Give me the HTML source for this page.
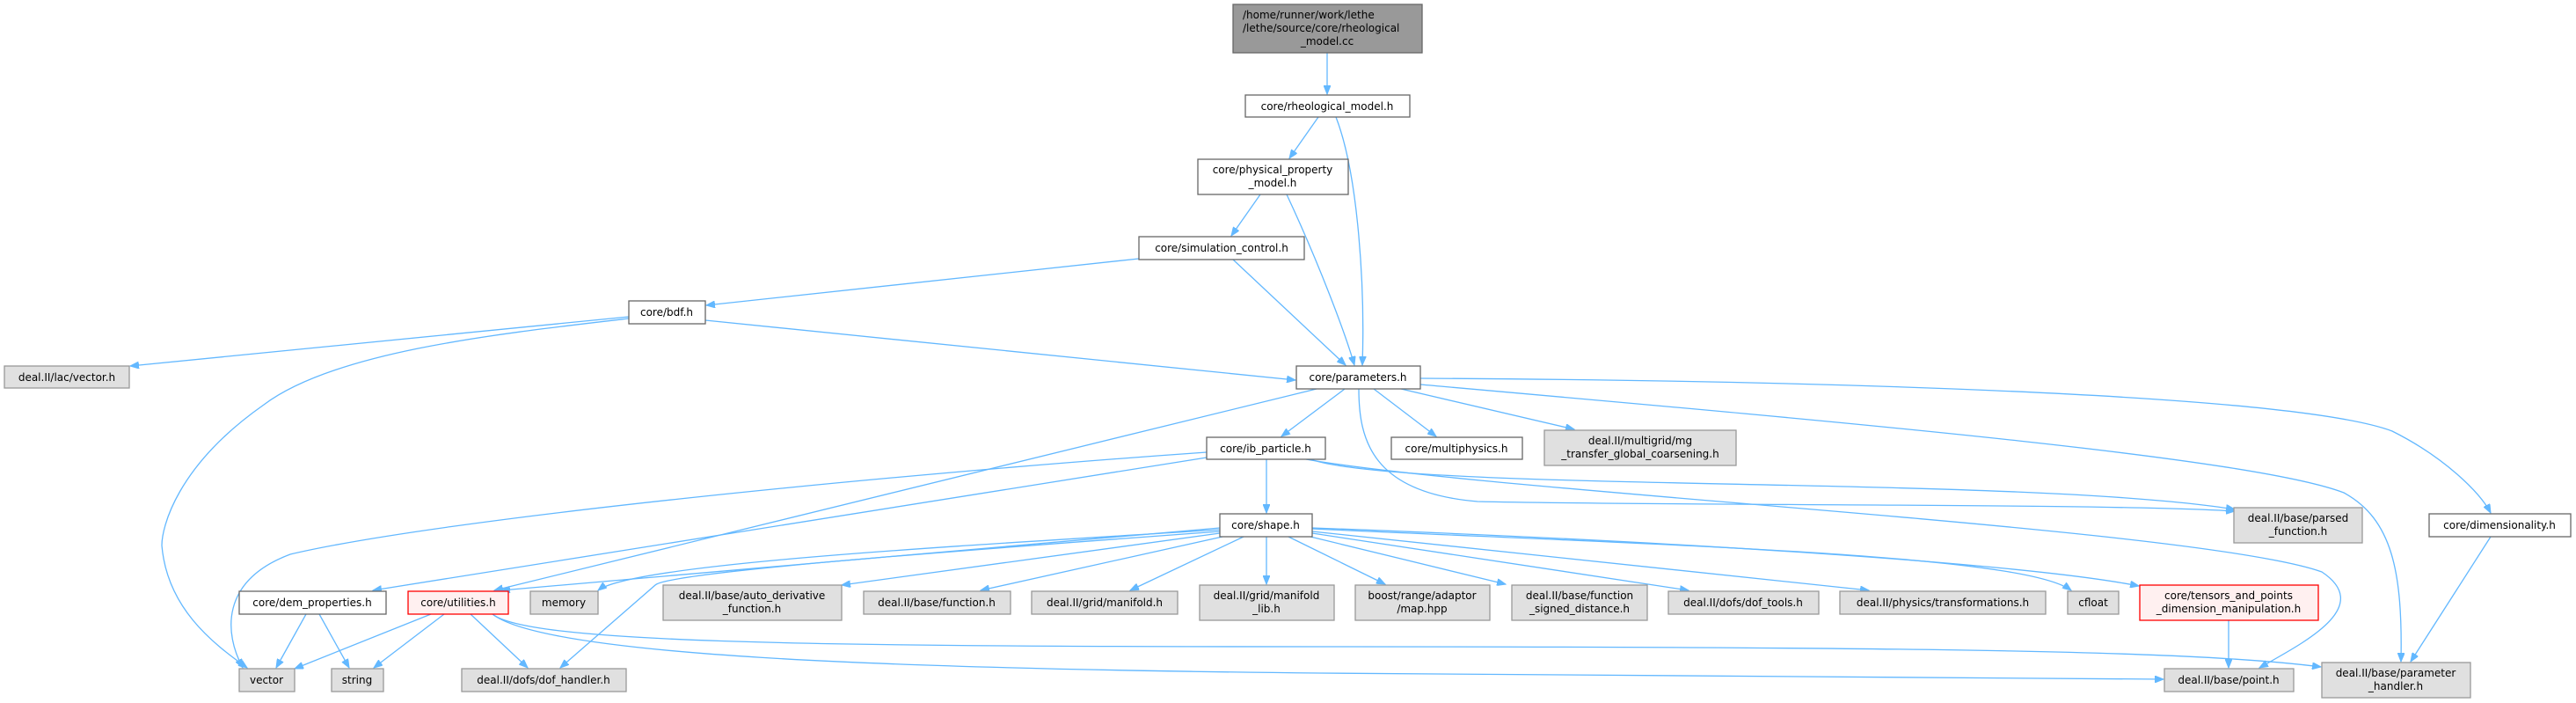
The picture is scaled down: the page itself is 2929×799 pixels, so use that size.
<!DOCTYPE html>
<html><head><meta charset="utf-8"><style>
html,body{margin:0;padding:0;background:#fff;}
svg{display:block;}
text{font-family:"DejaVu Sans","Liberation Sans",sans-serif;font-size:12px;fill:#000;}
.n{fill:#fff;stroke:#666;stroke-width:1.3;}
.g{fill:#e0e0e0;stroke:#999;stroke-width:1.3;}
.r{fill:#fff0f0;stroke:#f00;stroke-width:1.3;}
.t{fill:#999;stroke:#666;stroke-width:1.3;}
path.e{fill:none;stroke:#63b8ff;stroke-width:1.3;}
</style></head><body>
<svg width="2929" height="799" viewBox="0 0 2929 799" xmlns="http://www.w3.org/2000/svg">
<defs><marker id="a" markerWidth="11" markerHeight="8" refX="10" refY="4" orient="auto" markerUnits="userSpaceOnUse"><path d="M0,0 L10,4 L0,8 z" fill="#63b8ff" stroke="#63b8ff"/></marker></defs>
<g marker-end="url(#a)">
<path class="e" d="M1509,60 L1509,107"/>
<path class="e" d="M1499,133 L1466,180"/>
<path class="e" d="M1519,133 C1545,200 1552,330 1549,415"/>
<path class="e" d="M1433,221 L1400,268"/>
<path class="e" d="M1463,221 C1500,300 1530,380 1540,415"/>
<path class="e" d="M1295,294 L803,347"/>
<path class="e" d="M1402,295 L1530,415"/>
<path class="e" d="M715,360 L148,416"/>
<path class="e" d="M715,362 C560,380 380,400 300,460 C200,530 184,600 184,620 C190,690 240,730 281,759"/>
<path class="e" d="M802,364 L1473,432"/>
<path class="e" d="M1529,442 L1457,496"/>
<path class="e" d="M1562,442 L1633,496"/>
<path class="e" d="M1593,442 L1790,488"/>
<path class="e" d="M1497,442 L562,671"/>
<path class="e" d="M1545,442 C1545,500 1560,560 1680,570 C1900,575 2400,572 2541,581"/>
<path class="e" d="M1615,437 C2100,480 2560,520 2665,560 C2720,590 2732,650 2730,752"/>
<path class="e" d="M1615,430 C2000,432 2600,445 2720,490 C2780,520 2820,560 2832,583"/>
<path class="e" d="M2832,610 L2741,752"/>
<path class="e" d="M1440,522 L1440,583"/>
<path class="e" d="M1372,520 L424,671"/>
<path class="e" d="M1372,514 C1000,540 500,590 330,630 C250,660 255,720 276,759"/>
<path class="e" d="M1490,522 C1600,560 2300,540 2541,579"/>
<path class="e" d="M1485,522 C1700,560 2500,600 2640,650 C2700,690 2620,730 2569,759"/>
<path class="e" d="M1387,600 L570,671"/>
<path class="e" d="M1387,602 C1100,620 720,640 680,671"/>
<path class="e" d="M1387,604 C1100,625 760,650 745,665 L637,759"/>
<path class="e" d="M1387,606 L957,665"/>
<path class="e" d="M1390,610 L1115,671"/>
<path class="e" d="M1414,610 L1285,671"/>
<path class="e" d="M1440,610 L1440,664"/>
<path class="e" d="M1465,610 L1575,664"/>
<path class="e" d="M1490,610 L1712,664"/>
<path class="e" d="M1492,606 L1920,671"/>
<path class="e" d="M1492,604 L2125,671"/>
<path class="e" d="M1492,601 C1900,620 2300,630 2355,671"/>
<path class="e" d="M1492,600 C1900,615 2300,640 2432,666"/>
<path class="e" d="M490,698 L335,760"/>
<path class="e" d="M505,698 L425,759"/>
<path class="e" d="M535,698 L600,759"/>
<path class="e" d="M560,698 C600,730 900,735 1500,735 C2200,735 2500,740 2639,758"/>
<path class="e" d="M560,698 C620,745 1000,760 1500,765 C2000,770 2300,772 2460,772"/>
<path class="e" d="M348,698 L314,759"/>
<path class="e" d="M363,698 L397,759"/>
<path class="e" d="M2534,705 L2534,759"/>
</g>
<rect class="t" x="1402" y="5" width="215" height="55"/>
<text x="1413" y="21">/home/runner/work/lethe</text>
<text x="1413" y="36">/lethe/source/core/rheological</text>
<text x="1509" y="51" text-anchor="middle">_model.cc</text>
<g text-anchor="middle">
<rect class="n" x="1416" y="108" width="187" height="25"/><text x="1509" y="125">core/rheological_model.h</text>
<rect class="n" x="1362" y="181" width="171" height="40"/><text x="1447" y="197">core/physical_property</text><text x="1447" y="212">_model.h</text>
<rect class="n" x="1295" y="269" width="188" height="26"/><text x="1389" y="286">core/simulation_control.h</text>
<rect class="n" x="715" y="342" width="87" height="26"/><text x="758" y="359">core/bdf.h</text>
<rect class="g" x="5" y="416" width="142" height="25"/><text x="76" y="433">deal.II/lac/vector.h</text>
<rect class="n" x="1474" y="416" width="141" height="26"/><text x="1544" y="433">core/parameters.h</text>
<rect class="n" x="1372" y="497" width="135" height="25"/><text x="1439" y="514">core/ib_particle.h</text>
<rect class="n" x="1582" y="497" width="149" height="25"/><text x="1656" y="514">core/multiphysics.h</text>
<rect class="g" x="1756" y="489" width="218" height="40"/><text x="1865" y="505">deal.II/multigrid/mg</text><text x="1865" y="520">_transfer_global_coarsening.h</text>
<rect class="n" x="1387" y="584" width="105" height="26"/><text x="1439" y="601">core/shape.h</text>
<rect class="g" x="2540" y="577" width="146" height="40"/><text x="2613" y="593">deal.II/base/parsed</text><text x="2613" y="608">_function.h</text>
<rect class="n" x="2762" y="584" width="161" height="26"/><text x="2842" y="601">core/dimensionality.h</text>
<rect class="n" x="272" y="672" width="167" height="26"/><text x="355" y="689">core/dem_properties.h</text>
<rect class="r" x="464" y="672" width="114" height="26"/><text x="521" y="689">core/utilities.h</text>
<rect class="g" x="603" y="672" width="77" height="26"/><text x="641" y="689">memory</text>
<rect class="g" x="754" y="665" width="203" height="40"/><text x="855" y="681">deal.II/base/auto_derivative</text><text x="855" y="696">_function.h</text>
<rect class="g" x="982" y="672" width="167" height="26"/><text x="1065" y="689">deal.II/base/function.h</text>
<rect class="g" x="1173" y="672" width="166" height="26"/><text x="1256" y="689">deal.II/grid/manifold.h</text>
<rect class="g" x="1364" y="665" width="153" height="40"/><text x="1440" y="681">deal.II/grid/manifold</text><text x="1440" y="696">_lib.h</text>
<rect class="g" x="1541" y="665" width="153" height="40"/><text x="1617" y="681">boost/range/adaptor</text><text x="1617" y="696">/map.hpp</text>
<rect class="g" x="1719" y="665" width="154" height="40"/><text x="1796" y="681">deal.II/base/function</text><text x="1796" y="696">_signed_distance.h</text>
<rect class="g" x="1897" y="672" width="171" height="26"/><text x="1982" y="689">deal.II/dofs/dof_tools.h</text>
<rect class="g" x="2092" y="672" width="234" height="26"/><text x="2209" y="689">deal.II/physics/transformations.h</text>
<rect class="g" x="2351" y="672" width="58" height="26"/><text x="2380" y="689">cfloat</text>
<rect class="r" x="2433" y="665" width="203" height="40"/><text x="2534" y="681">core/tensors_and_points</text><text x="2534" y="696">_dimension_manipulation.h</text>
<rect class="g" x="272" y="760" width="63" height="26"/><text x="303" y="777">vector</text>
<rect class="g" x="377" y="760" width="59" height="26"/><text x="406" y="777">string</text>
<rect class="g" x="525" y="760" width="187" height="26"/><text x="618" y="777">deal.II/dofs/dof_handler.h</text>
<rect class="g" x="2461" y="760" width="147" height="26"/><text x="2534" y="777">deal.II/base/point.h</text>
<rect class="g" x="2640" y="753" width="169" height="40"/><text x="2724" y="769">deal.II/base/parameter</text><text x="2724" y="784">_handler.h</text>
</g>
</svg>
</body></html>
